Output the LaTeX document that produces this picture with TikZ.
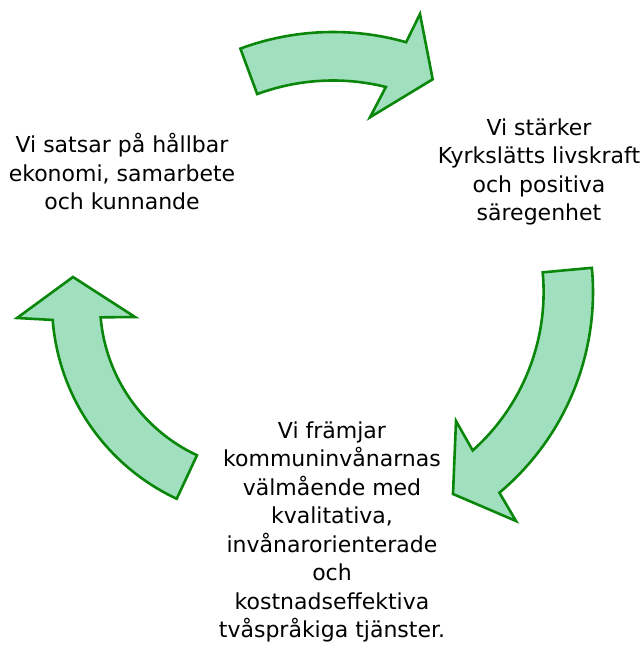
\documentclass[tikz,border=0pt]{standalone}
\usepackage{fontspec}
\setmainfont{DejaVu Sans}
\usetikzlibrary{calc}
\definecolor{arrowfill}{RGB}{160,224,190}
\definecolor{arrowline}{RGB}{10,135,10}
\tikzset{
  cyclearrow/.style={fill=arrowfill, draw=arrowline, line width=2.6pt, line join=miter},
  cycletext/.style={align=center, font=\fontsize{22pt}{28.5pt}\selectfont, text=black, inner sep=0pt}
}
\begin{document}
\begin{tikzpicture}[x=1pt,y=1pt]
\useasboundingbox (0,0) rectangle (644,648);
% texts
\node[cycletext] (t1) at (539,476) {Vi stärker\\Kyrkslätts livskraft\\och positiva\\säregenhet};
\node[cycletext] (t2) at (332,116) {Vi främjar\\kommuninvånarnas\\välmående med\\kvalitativa,\\invånarorienterade\\och\\kostnadseffektiva\\tvåspråkiga tjänster.};
\node[cycletext] (t3) at (122,476) {Vi satsar på hållbar\\ekonomi, samarbete\\och kunnande};
% centres of the arrows
\coordinate (c1) at (333,349);
\coordinate (c2) at (331,356);
\coordinate (c3) at (268,345);
% top arrow
\coordinate (a1tip) at (432.7,568.7);
\draw[cyclearrow] ($(c1)+(110.3:267)$) arc[start angle=110.3, end angle=74.1, radius=267]
  -- (420,634) -- (a1tip) -- (370,530.7)
  -- ($(c1)+(76:218.5)$) arc[start angle=76, end angle=110.3, radius=218.5] -- cycle;
% right arrow
\coordinate (a2tip) at (453,154);
\draw[cyclearrow] ($(c2)+(5.3:262)$) arc[start angle=5.3, end angle=-50, radius=262]
  -- (516,127) -- (a2tip) -- (456,227)
  -- ($(c2)+(-48.2:212.6)$) arc[start angle=-48.2, end angle=5.3, radius=212.6] -- cycle;
% left arrow
\coordinate (a3tip) at (73,371);
\draw[cyclearrow] ($(c3)+(245:216)$) arc[start angle=245, end angle=184.5, radius=216]
  -- (17,330) -- (a3tip) -- (135,331)
  -- ($(c3)+(184.9:168)$) arc[start angle=184.9, end angle=245, radius=168] -- cycle;
\end{tikzpicture}
\end{document}
